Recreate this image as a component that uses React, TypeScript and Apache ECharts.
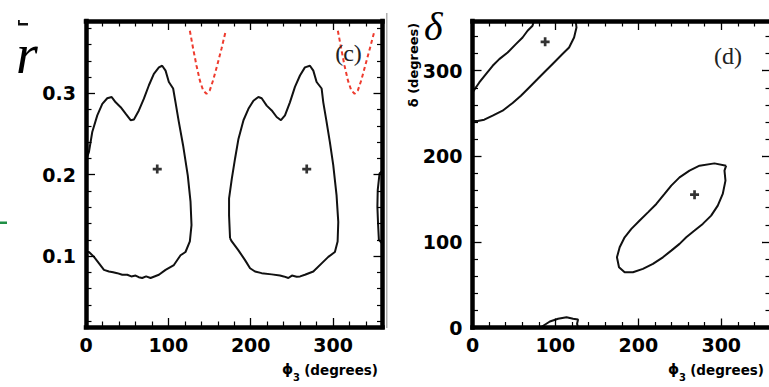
import React, { useEffect, useRef } from 'react';
import * as echarts from 'echarts';

// ---- axis ticks ----
const phiMajor = [0, 100, 200, 300];
const phiMinor = [20, 40, 60, 80, 120, 140, 160, 180, 220, 240, 260, 280, 320, 340];
const rMajor = [0.1, 0.2, 0.3];
const rMinor = [0.02, 0.04, 0.06, 0.08, 0.12, 0.14, 0.16, 0.18, 0.22, 0.24, 0.26, 0.28, 0.32, 0.34, 0.36, 0.38];
const deltaMajor = [0, 100, 200, 300];
const deltaMinor = [20, 40, 60, 80, 120, 140, 160, 180, 220, 240, 260, 280, 320, 340];

const phiRange = [0, 360];
const rRange = [0.0128, 0.389];
const deltaRange = [0, 358];

// ---- panel (c): r vs phi3 ----
const contourC1 = [
  [0, 0.105], [3.6, 0.105], [9.7, 0.099], [15.8, 0.091], [21.8, 0.083], [27.9, 0.081], [33, 0.08], [37.9, 0.079],
  [44, 0.077], [50.1, 0.077], [55, 0.075], [60.2, 0.076], [64, 0.074], [68.2, 0.073], [73, 0.075], [78.4, 0.073],
  [88.5, 0.077], [96.6, 0.083], [106.7, 0.089], [114.8, 0.101], [120.8, 0.105], [126.1, 0.118], [128.1, 0.138],
  [126.9, 0.167], [123.6, 0.199], [117.9, 0.236], [112.7, 0.265], [108.7, 0.289], [105.8, 0.306], [100.6, 0.314],
  [96.6, 0.328], [92.5, 0.334], [88.5, 0.332], [82.4, 0.324], [76.4, 0.31], [70.3, 0.2935], [64.2, 0.279],
  [58.2, 0.268], [54.2, 0.267], [48.1, 0.275], [42.1, 0.283], [36.0, 0.289], [31.2, 0.2955], [25.8, 0.294],
  [19.8, 0.287], [13.7, 0.273], [7.6, 0.2525], [3.6, 0.228], [0, 0.218], [0, 0.105]
];
const contourC2 = [
  [174.9, 0.122], [173.7, 0.15], [173.7, 0.171], [177.0, 0.195], [181.0, 0.22], [185.1, 0.244], [191.2, 0.267],
  [197.2, 0.281], [203.3, 0.291], [209.3, 0.2955], [213.3, 0.294], [219.4, 0.285], [225.5, 0.279], [231.5, 0.271],
  [236.7, 0.267], [241.6, 0.273], [247.6, 0.289], [253.7, 0.308], [259.8, 0.322], [265.8, 0.332], [271.9, 0.334],
  [276, 0.328], [280, 0.314], [286.1, 0.306], [288.1, 0.289], [292.1, 0.265], [296.1, 0.24], [300.2, 0.2117],
  [304.2, 0.175], [306.3, 0.142], [305.5, 0.118], [302.2, 0.105], [294.2, 0.099], [286.1, 0.091], [276, 0.081],
  [265.8, 0.077], [260, 0.075], [255.8, 0.0746], [250, 0.076], [245.7, 0.073], [240, 0.075], [235.5, 0.076],
  [225.5, 0.0775], [213.3, 0.079], [205.2, 0.081], [199.2, 0.085], [193.1, 0.095], [185.1, 0.107], [177, 0.118],
  [174.9, 0.122]
];
const contourCWrap = [[360, 0.205], [356.4, 0.2015], [354.2, 0.181], [353.8, 0.1605], [354.6, 0.14], [355.6, 0.12], [360, 0.115]];
const boundC1 = [
  [126.1, 0.377], [130.1, 0.355], [134.2, 0.334], [138.2, 0.316], [142.2, 0.3037], [146.3, 0.2996],
  [150.3, 0.3037], [154.3, 0.316], [159.2, 0.334], [164.5, 0.355], [169.7, 0.377]
];
const boundC2 = [
  [305.8, 0.377], [309.9, 0.355], [313.9, 0.334], [318, 0.316], [322.1, 0.3037], [326.1, 0.2996],
  [330.1, 0.3037], [334.2, 0.316], [339, 0.334], [344.6, 0.355], [350.3, 0.377]
];
const bestC = [[86.5, 0.207], [268, 0.207]];

// ---- panel (d): delta vs phi3 ----
const contourD1 = [
  [0, 241.2], [6.3, 241.2], [14.2, 242.7], [24.3, 247.4], [36.3, 253.2], [48.4, 262.2], [58.4, 270.7],
  [68.4, 280.4], [78.5, 290.2], [88.4, 299.9], [98.4, 309.6], [108.5, 319.4], [116.5, 327.1], [122.5, 338.7],
  [125.4, 350.4], [124.5, 358], [74, 358], [72.4, 352.4], [66.4, 346.6], [60.4, 338.7], [52.3, 331.0],
  [42.4, 321.2], [32.3, 313.5], [24.3, 305.7], [16.2, 296.0], [8.2, 286.2], [0, 274.6], [0, 241.2]
];
const contourD2 = [
  [305.9, 189.0], [303.9, 183.2], [305.1, 171.5], [301.8, 156.0], [295.8, 142.4], [287.8, 130.7], [277.7, 121.0],
  [267.8, 113.2], [257.8, 105.4], [249.7, 97.7], [239.7, 89.8], [229.6, 82.0], [217.6, 74.3], [205.5, 68.5],
  [193.5, 64.5], [183.5, 64.5], [176.7, 70.4], [174.2, 82.0], [177.5, 93.7], [183.5, 105.4], [191.6, 115.2],
  [201.6, 124.9], [211.6, 134.5], [221.7, 144.3], [231.6, 156.0], [239.7, 165.7], [249.7, 175.4], [261.7, 183.2],
  [273.8, 189.0], [291.8, 191.7], [305.9, 189.0]
];
const contourD3 = [[82, 0], [93.3, 7.0], [103.2, 10.2], [113.4, 12.0], [121.3, 10.2], [127.3, 9.3], [126.1, 4.3], [127.3, 0]];
const bestD = [[87.6, 333.7], [267.8, 155.2]];

const NUM_FONT = '"DejaVu Sans", "Liberation Sans", sans-serif';
const SERIF = '"Liberation Serif", "DejaVu Serif", serif';

function axisPair(grid: number, position: string, range: number[], major: number[], minor: number[], labels: boolean, fmt?: (v: number) => string, margin = 10) {
  const base: any = { type: 'value', gridIndex: grid, position, min: range[0], max: range[1], splitLine: { show: false }, z: 10 };
  const main = {
    ...base,
    axisLine: { show: true, onZero: false, lineStyle: { color: '#000', width: 4.5, cap: 'square' } },
    axisTick: { show: true, inside: true, length: 9, customValues: major, lineStyle: { color: '#000', width: 1.3 } },
    axisLabel: labels
      ? { show: true, customValues: major, margin, color: '#000', fontFamily: NUM_FONT, fontWeight: 'bold', fontSize: 19, formatter: fmt || ((v: number) => String(v)) }
      : { show: false }
  };
  const sub = {
    ...base,
    axisLine: { show: false, onZero: false },
    axisTick: { show: true, inside: true, length: 5.5, customValues: minor, lineStyle: { color: '#000', width: 1.2 } },
    axisLabel: { show: false }
  };
  return [main, sub];
}

export default function App() {
  const ref = useRef<HTMLDivElement>(null);
  useEffect(() => {
    if (!ref.current) return;
    const chart = echarts.init(ref.current, null, { renderer: 'svg' });
    const xAxis = [
      ...axisPair(0, 'bottom', phiRange, phiMajor, phiMinor, true, undefined, 8),
      ...axisPair(0, 'top', phiRange, phiMajor, phiMinor, false),
      ...axisPair(1, 'bottom', phiRange, phiMajor, phiMinor, true, undefined, 8),
      ...axisPair(1, 'top', phiRange, phiMajor, phiMinor, false)
    ];
    const yAxis = [
      ...axisPair(0, 'left', rRange, rMajor, rMinor, true, (v: number) => v.toFixed(1), 10),
      ...axisPair(0, 'right', rRange, rMajor, rMinor, false),
      ...axisPair(1, 'left', deltaRange, deltaMajor, deltaMinor, true, undefined, 10),
      ...axisPair(1, 'right', deltaRange, deltaMajor, deltaMinor, false)
    ];
    const line = (data: number[][], xi: number, yi: number, extra: any = {}) => ({
      type: 'line', data, xAxisIndex: xi, yAxisIndex: yi, showSymbol: false, symbol: 'none', silent: true,
      z: 3, lineStyle: { color: '#111', width: 2 }, ...extra
    });
    const dashed = { lineStyle: { color: '#ee3b2e', width: 2, type: [4, 3] } };
    const plus = 'path://M3.5,0H6.5V3.5H10V6.5H6.5V10H3.5V6.5H0V3.5H3.5Z';
    const cross = (data: number[][], xi: number, yi: number) => ({
      type: 'scatter', data, xAxisIndex: xi, yAxisIndex: yi, symbol: plus, symbolSize: 9, silent: true, z: 4,
      itemStyle: { color: '#000' }
    });
    const phiTitle = (dx: number) => [
      { type: 'text', x: 287.5 + dx, y: 369, z: 20, style: { text: 'ϕ', font: `bold 14px ${NUM_FONT}`, fill: '#000', align: 'center', verticalAlign: 'middle' } },
      { type: 'text', x: 293 + dx, y: 377, z: 20, style: { text: '3', font: `bold 10px ${NUM_FONT}`, fill: '#000', align: 'left', verticalAlign: 'middle' } },
      { type: 'text', x: 378 + dx, y: 370, z: 20, style: { text: '(degrees)', font: `bold 13.5px ${NUM_FONT}`, fill: '#000', align: 'right', verticalAlign: 'middle' } }
    ];
    chart.setOption({
      animation: false,
      backgroundColor: '#fff',
      grid: [
        { left: 86, top: 21, width: 296.5, height: 306, containLabel: false, outerBoundsMode: 'none' },
        { left: 472.5, top: 21, width: 298.5, height: 306.5, containLabel: false, outerBoundsMode: 'none' }
      ],
      xAxis,
      yAxis,
      series: [
        line(contourC1, 0, 0),
        line(contourC2, 0, 0),
        line(contourCWrap, 0, 0),
        line(boundC1, 0, 0, dashed),
        line(boundC2, 0, 0, dashed),
        cross(bestC, 0, 0),
        line(contourD1, 4, 4),
        line(contourD2, 4, 4),
        line(contourD3, 4, 4),
        cross(bestD, 4, 4)
      ],
      graphic: [
        { type: 'text', x: 16, y: 54, z: 20, style: { text: 'r', font: `italic 56px ${SERIF}`, fill: '#000', align: 'left', verticalAlign: 'middle' } },
        { type: 'text', x: 424, y: 26, z: 20, style: { text: 'δ', font: `italic 40px ${SERIF}`, fill: '#000', align: 'left', verticalAlign: 'middle' } },
        { type: 'text', x: 348.5, y: 53, z: 20, style: { text: '(c)', font: `24px ${SERIF}`, fill: '#222', align: 'center', verticalAlign: 'middle' } },
        { type: 'text', x: 728, y: 56, z: 20, style: { text: '(d)', font: `24px ${SERIF}`, fill: '#222', align: 'center', verticalAlign: 'middle' } },
        ...phiTitle(0),
        ...phiTitle(386),
        {
          type: 'text', x: 413.5, y: 65, rotation: Math.PI / 2, z: 20,
          style: { text: 'δ (degrees)', font: `bold 13px ${NUM_FONT}`, fill: '#000', align: 'center', verticalAlign: 'middle' }
        },
        { type: 'rect', shape: { x: 386, y: 13, width: 1.5, height: 315 }, style: { fill: '#b0b0b0' }, z: 1 },
        { type: 'rect', shape: { x: 0, y: 221.5, width: 7, height: 2.5 }, style: { fill: '#1f8f45' }, z: 1 },
        { type: 'rect', shape: { x: 18, y: 23, width: 10, height: 2.5 }, style: { fill: '#111' }, z: 1 },
        { type: 'rect', shape: { x: 18, y: 20, width: 1.8, height: 4 }, style: { fill: '#111' }, z: 1 }
      ]
    });
    return () => chart.dispose();
  }, []);
  return <div ref={ref} style={{ position: 'fixed', left: 0, top: 0, width: 769, height: 387, background: '#fff' }} />;
}
